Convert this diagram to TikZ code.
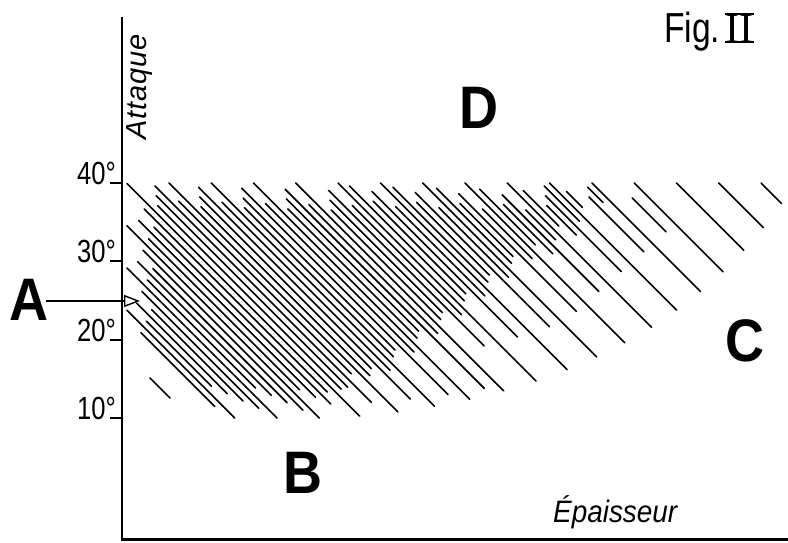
\documentclass[tikz,border=0pt]{standalone}
\usepackage{fontspec}
\setmainfont{Liberation Sans}
\newfontfamily\handN{Liberation Sans}[FakeStretch=0.8]
\newfontfamily\handI{Liberation Sans}[FakeStretch=0.9]
\newfontfamily\handA{Liberation Sans}[LetterSpace=3]
\newfontfamily\bigL{Liberation Sans}[FakeStretch=0.9]
\newfontfamily\romanF{Liberation Serif}
\usetikzlibrary{arrows.meta}
\tikzset{
  hatch/.style={line width=1.6pt, line cap=round},
  axisline/.style={line width=2.2pt},
  tickmark/.style={line width=1.6pt},
  bigletter/.style={font=\bigL\bfseries\fontsize{60}{62}\selectfont, inner sep=0pt},
  deglabel/.style={font=\handN\fontsize{32}{34}\selectfont, anchor=base east, inner sep=0pt},
  pointer/.style={line width=1.4pt, -{Triangle[open,length=16pt,width=12pt,line width=1.4pt]}}
}
\begin{document}
\begin{tikzpicture}[x=1pt,y=-1pt]
\useasboundingbox (0,0) rectangle (788,542);
% axes
\draw[axisline] (122,17) -- (122,540);
\draw[line width=3pt] (121,539) -- (788,539);
% ticks
\foreach \yy in {183,261,340,418}{
  \draw[tickmark] (110,\yy) -- (123,\yy);
}
\node[deglabel] (l40) at (116,184) {40°};
\node[deglabel] (l30) at (116,262) {30°};
\node[deglabel] (l20) at (116,341) {20°};
\node[deglabel] (l10) at (116,419) {10°};
% hatching
\foreach \j in {-6,...,85}{
  \pgfmathsetmacro\xo{42+8.46*\j}
  \pgfmathtruncatemacro\k{mod(\j+50,5)}
  \pgfmathsetmacro\ra{mod(\j*37+370,23)/23}
  \pgfmathsetmacro\rb{mod(\j*53+530,19)/19}
  \pgfmathsetmacro\tz{max(183,310-\xo)}
  \pgfmathsetmacro\uu{max(0,\xo-100)}
  \pgfmathsetmacro\env{418-0.06*\uu-(0.02*\uu)*(0.02*\uu)}
  \ifnum\k=0
    \pgfmathsetmacro\ts{\tz}
    \pgfmathsetmacro\te{\env}
  \else
    \pgfmathsetmacro\ts{\tz+3+25*\ra}
    \ifnum\k=3
      \pgfmathsetmacro\bb{\xo<640 ? 522-0.47*\xo : 0}
    \else
      \pgfmathsetmacro\bb{450-0.422*\xo+16*(\rb-0.5)}
    \fi
    \pgfmathsetmacro\te{min(\env-6-35*\rb,\bb)}
  \fi
  \pgfmathtruncatemacro\ok{(\te-\ts)>12}
  \ifnum\ok=1
    \draw[hatch] (\xo+\ts-183,\ts) -- (\xo+\te-183,\te);
  \fi
}
\draw[hatch] (150,378) -- (170,398);
% region letters
\node[bigletter] (A) at (29,300) {A};
\node[bigletter] (B) at (303,473) {B};
\node[bigletter] (C) at (745,341) {C};
\node[bigletter] (D) at (479,108) {D};
\coordinate (Atip) at (140,301);
\draw[pointer] ([xshift=-3pt]A.east |- Atip) -- (Atip);
% axis titles
\node[font=\handA\itshape\fontsize{29}{31}\selectfont, rotate=90, inner sep=0pt] (att) at (140,87) {Attaque};
\node[font=\handI\itshape\fontsize{31}{33}\selectfont, anchor=base west, inner sep=0pt] (ep) at (553,522) {Épaisseur};
% figure title
\node[font=\handN\fontsize{42}{44}\selectfont, anchor=base west, inner sep=0pt] (fig) at (664,42) {Fig.};
\node[font=\romanF\fontsize{42}{44}\selectfont, anchor=base west, inner sep=0pt] (two) at ([xshift=5pt]fig.base east) {II};
\draw[line width=1.8pt] (two.north west) -- (two.north east);
\draw[line width=1.8pt] (two.base west) -- (two.base east);
\end{tikzpicture}
\end{document}
